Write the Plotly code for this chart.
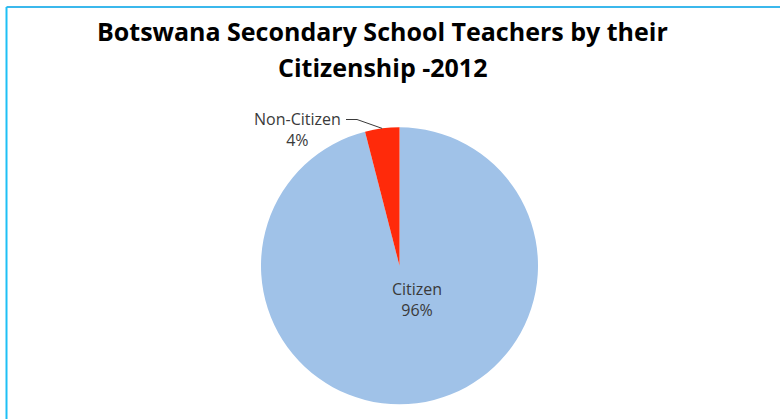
import math
import plotly.graph_objects as go

# Secondary school teachers in Botswana, 2012, share by citizenship
categories = ["Citizen", "Non-Citizen"]
shares = [96, 4]
slice_colors = ["#A0C2E8", "#FF2A0A"]

title_lines = ["Botswana Secondary School Teachers by their", "Citizenship -2012"]

W, H = 780, 419
cx, cy, r = 399.5, 265.8, 138.5  # pie centre and radius in pixels

# counterclockwise: the first slice ends at 12 o'clock, so Non-Citizen
# opens just to the left of the top
fig = go.Figure(
    go.Pie(
        labels=categories,
        values=shares,
        sort=False,
        direction="counterclockwise",
        marker=dict(colors=slice_colors, line=dict(width=0)),
        textinfo="none",
        hoverinfo="label+percent",
        showlegend=False,
        domain=dict(
            x=[(cx - r) / W, (cx + r) / W],
            y=[(H - cy - r) / H, (H - cy + r) / H],
        ),
    )
)

total = sum(shares)

def px(x, y):
    return x / W, 1 - y / H

label_pos = {"Non-Citizen": (297, 129), "Citizen": (417, 299)}

annotations = []
# slice labels
for c, v in zip(categories, shares):
    ax, ay = px(*label_pos[c])
    annotations.append(dict(
        x=ax, y=ay, xref="paper", yref="paper",
        text=f"{c}<br>{round(v / total * 100)}%", showarrow=False,
        font=dict(family="Open Sans", size=16, color="#3A3A3A"),
        align="center", xanchor="center", yanchor="middle",
    ))
# two-line title
for text, (tx, ty) in zip(title_lines, [(382.5, 31), (382, 67)]):
    ax, ay = px(tx, ty)
    annotations.append(dict(
        x=ax, y=ay, xref="paper", yref="paper", text=f"<b>{text}</b>", showarrow=False,
        font=dict(family="Open Sans", size=25, color="#000000"),
        xanchor="center", yanchor="middle",
    ))

# leader line from the Non-Citizen label to the middle of its slice
nc_share = shares[categories.index("Non-Citizen")]
mid = math.radians(nc_share / total * 360 / 2)
ex, ey = cx - r * math.sin(mid), cy - r * math.cos(mid)
p0, p1, p2 = px(346, 119.5), px(357, 119.5), px(ex, ey)
shapes = [
    dict(type="path", xref="paper", yref="paper",
         path=f"M {p0[0]} {p0[1]} L {p1[0]} {p1[1]} L {p2[0]} {p2[1]}",
         line=dict(color="#3A3A3A", width=1)),
    # frame edges
    dict(type="line", xref="paper", yref="paper", x0=6.5 / W, x1=1, y0=1 - 7 / H, y1=1 - 7 / H,
         line=dict(color="#3BB8EC", width=2)),
    dict(type="line", xref="paper", yref="paper", x0=6.5 / W, x1=6.5 / W, y0=0, y1=1 - 7 / H,
         line=dict(color="#1EC0F5", width=2)),
]

fig.update_layout(
    width=W, height=H,
    margin=dict(l=0, r=0, t=0, b=0),
    paper_bgcolor="white", plot_bgcolor="white",
    annotations=annotations, shapes=shapes,
)

fig.write_html("out.html")
